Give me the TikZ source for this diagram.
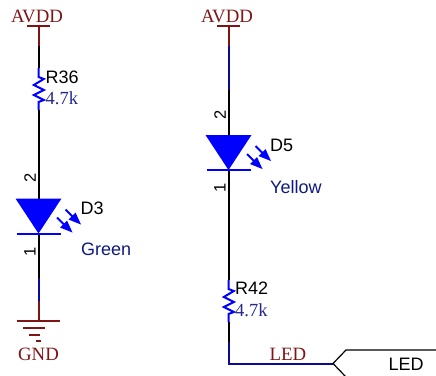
\documentclass[tikz,border=0pt]{standalone}
\usepackage{fontspec}
\setmainfont{Liberation Serif}
\setsansfont{Liberation Sans}
\definecolor{netred}{RGB}{128,20,20}
\definecolor{wirenavy}{RGB}{10,10,150}
\definecolor{compblue}{RGB}{0,0,255}
\definecolor{valnavy}{RGB}{40,40,140}
\definecolor{labnavy}{RGB}{15,25,130}
\tikzset{
  x=1pt,y=-1pt,
  redw/.style={draw=netred,line width=2pt},
  navyw/.style={draw=wirenavy,line width=2pt},
  blackw/.style={draw=black,line width=2pt},
  bluew/.style={draw=compblue,line width=2pt},
  netlab/.style={text=netred,font=\rmfamily\fontsize{18.8}{18.8}\selectfont,inner sep=0pt},
  ref/.style={text=black,font=\sffamily\fontsize{18}{18}\selectfont,inner sep=0pt,anchor=west},
  val/.style={text=valnavy,font=\rmfamily\fontsize{18.5}{18.5}\selectfont,inner sep=0pt,anchor=west},
  col/.style={text=labnavy,font=\sffamily\fontsize{18}{18}\selectfont,inner sep=0pt,anchor=west},
  pin/.style={text=black,font=\sffamily\fontsize{16.5}{16.5}\selectfont,inner sep=0pt,rotate=90},
  ledarrow/.style={draw=compblue,line width=1.8pt},
  ledhead/.style={fill=compblue,draw=none}
}
\newcommand{\ledsym}[2]{% x, y top
  \path[fill=compblue] (#1-23,#2) -- (#1+23,#2) -- (#1,#2+35) -- cycle;
  \draw[bluew] (#1-22,#2+35) -- (#1+22,#2+35);
  \draw[ledarrow] (#1+27,#2+11) -- (#1+36,#2+20);
  \path[ledhead] (#1+42.5,#2+26) -- (#1+30,#2+21) -- (#1+37,#2+14) -- cycle;
  \draw[ledarrow] (#1+18.5,#2+19) -- (#1+27.5,#2+28);
  \path[ledhead] (#1+34,#2+34) -- (#1+21.5,#2+29) -- (#1+28.5,#2+22) -- cycle;
}
\newcommand{\ressym}[2]{% x, y top
  \draw[bluew,line join=miter] (#1,#2) -- (#1,#2+9) -- (#1+5.3,#2+11) -- (#1-4.7,#2+17) -- (#1+5.3,#2+22) -- (#1-4.7,#2+27) -- (#1+5.3,#2+32) -- (#1,#2+34) -- (#1,#2+42);
}
\begin{document}
\begin{tikzpicture}
\useasboundingbox (0,0) rectangle (436,375);
% left branch
\node[netlab] (avddL) at (37,16.5) {AVDD};
\coordinate (barL) at (38.5,26);
\coordinate (a1) at (38.5,46);
\coordinate (r36t) at (38.5,68);
\coordinate (r36b) at (38.5,110);
\coordinate (d3t) at (38.5,198.5);
\coordinate (d3b) at (38.5,233);
\coordinate (n1) at (38.5,278);
\coordinate (n2) at (38.5,301);
\coordinate (gndt) at (38.5,321);
\draw[redw] (27,26) -- (50,26);
\draw[redw] (barL) -- (a1);
\draw[blackw] (a1) -- (r36t);
\draw[blackw] (r36b) -- (d3t);
\draw[blackw] (d3b) -- (n1);
\draw[navyw] (n1) -- (n2);
\draw[redw] (n2) -- (gndt);
\ressym{38.5}{68}
\ledsym{38.5}{198.5}
\draw[redw] (17,321) -- (60,321);
\draw[redw] (23,328) -- (45,328);
\draw[redw] (29,334.5) -- (39.5,334.5);
\draw[redw] (36,340.5) -- (41,340.5);
\node[netlab] (gnd) at (38.5,354) {GND};
\node[ref] (r36) at (45.5,77) {R36};
\node[val] (r36v) at (45.5,98) {4.7k};
\node[ref] (d3) at (80.5,208) {D3};
\node[col] (green) at (81,249.5) {Green};
\node[pin] (p2L) at (30,177.5) {2};
\node[pin] (p1L) at (30,252) {1};
% right branch
\node[netlab] (avddR) at (227,16.5) {AVDD};
\coordinate (barR) at (228.5,26);
\coordinate (b1) at (228.5,46);
\coordinate (b2) at (228.5,90);
\coordinate (d5t) at (228.5,135);
\coordinate (d5b) at (228.5,170);
\coordinate (r42t) at (228.5,280);
\coordinate (r42b) at (228.5,322);
\coordinate (b3) at (228.5,342);
\coordinate (corner) at (228.5,363.5);
\coordinate (portTip) at (333,363.5);
\coordinate (portTop) at (346,350);
\coordinate (portBot) at (346,377);
\coordinate (portEnd) at (436,350);
\draw[redw] (217,26) -- (240,26);
\draw[redw] (barR) -- (b1);
\draw[navyw] (b1) -- (b2);
\draw[blackw] (b2) -- (d5t);
\draw[blackw] (d5b) -- (r42t);
\ressym{228.5}{280}
\ledsym{228.5}{135}
\draw[blackw] (r42b) -- (b3);
\draw[navyw,line join=miter] (b3) -- (corner) -- (portTip);
\draw[black,line width=1.2pt] (portBot) -- (portTip) -- (portTop) -- (portEnd);
\node[ref] (d5) at (270,145) {D5};
\node[col] (yellow) at (270,187.5) {Yellow};
\node[pin] (p2R) at (220,115) {2};
\node[pin] (p1R) at (220,188) {1};
\node[ref] (r42) at (235,288) {R42};
\node[val] (r42v) at (235,310) {4.7k};
\node[netlab] (ledn) at (288,354) {LED};
\node[ref] (led) at (388.5,364) {LED};
\end{tikzpicture}
\end{document}
